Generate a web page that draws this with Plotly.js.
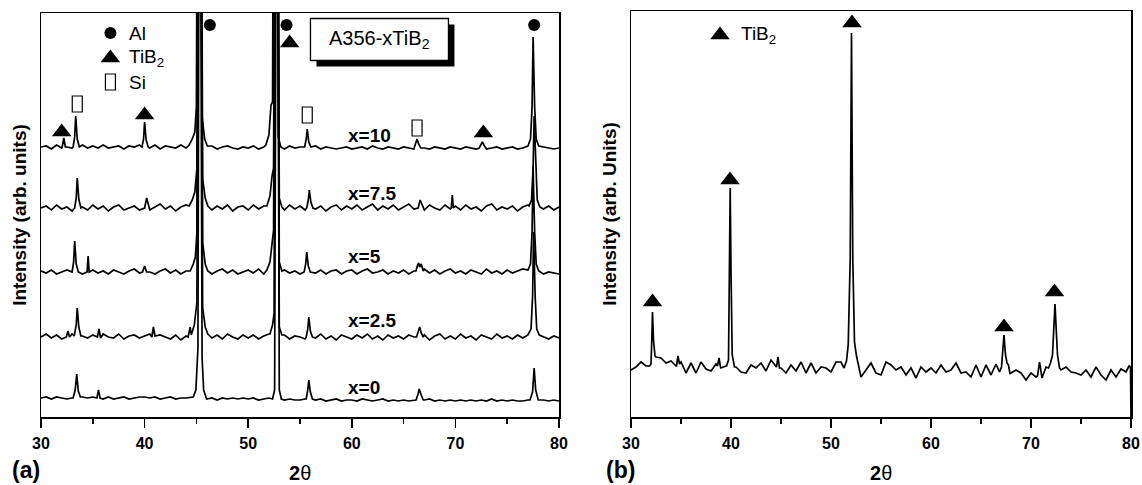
<!DOCTYPE html>
<html>
<head>
<meta charset="utf-8">
<script src="https://cdn.plot.ly/plotly-3.0.1.min.js"></script>
<style>html,body{margin:0;padding:0;background:#fff;}#chart{width:1142px;height:485px;}</style>
</head>
<body>
<div id="chart"></div>
<script>
// ---------- DATA ----------
// Panel (a): A356-xTiB2 patterns. Grid starts at 30°, step 0.5°; values are relative to each pattern's baseline offset.
const GRID_START = 30, GRID_STEP = 0.5;
const seriesNames = ['x=0', 'x=2.5', 'x=5', 'x=7.5', 'x=10'];
const offsets = [19, 80, 145, 209, 270];

const grid_x0 = [0,1,-1,1,0,-1,0,0,1,0, 1,0,-1,1,-1,0,1,-1,0,1, 1,0,1,-1,0,1,-1,0,0,1, 0,0,-1,0,-2,0,-1,0,-1,0,
  -1,0,-2,-1,0,0,-1,-2,-1,-2, -2,-1,-2,-2,-1,-3,-2,-1,-3,-2, -2,-3,-1,-2,-3,-2,-1,-3,-2,-3, -2,-3,-2,-3,-2,-1,-3,-2,-3,-2,
  -3,-2,-3,-2,-3,-2,-3,-1,-3,-2, -3,-2,-3,-3,-2,-2,-3,-2,-3,-2, -3];
const peaks_x0 = [
  [[33.1,0],[33.3,8],[33.45,24],[33.6,7],[33.8,1]],
  [[35.4,0],[35.55,8],[35.7,0]],
  [[44.7,1],[44.95,8],[45.15,50],[45.25,500],[45.4,500],[45.55,40],[45.7,8],[45.95,0]],
  [[52.35,-1],[52.55,8],[52.7,500],[52.85,500],[53.0,8],[53.2,-1]],
  [[55.6,-1],[55.75,8],[55.85,18],[56.0,6],[56.2,-1]],
  [[66.2,-2],[66.4,4],[66.5,9],[66.7,3],[66.9,-2]],
  [[77.2,-2],[77.45,6],[77.6,30],[77.75,8],[78.0,-2]]
];

const grid_x25 = [0,3,-1,2,-2,1,3,-2,1,-1, 2,-2,3,0,-1,3,-2,1,2,-1, 1,3,-2,2,0,-2,2,-3,1,2, 0,0,3,-1,2,-2,3,0,-2,2,
  -1,2,-2,1,3,0,-1,2,-2,1, 0,-2,2,-1,3,-2,1,-3,2,0, -2,2,-1,3,-2,1,-3,2,-1,1, -2,2,0,-1,2,-3,1,3,-2,1,
  -2,3,-1,1,-3,2,0,-2,3,-1, 1,-2,2,-1,1,2,-1,0,-2,1, -1];
const peaks_x25 = [
  [[32.45,0],[32.6,6],[32.75,0]],
  [[33.2,1],[33.4,12],[33.5,29],[33.65,10],[33.85,1]],
  [[35.45,0],[35.6,8],[35.75,-1]],
  [[40.7,0],[40.85,10],[41.0,1]],
  [[44.2,0],[44.4,10],[44.5,2],[44.8,12],[45.05,35],[45.2,500],[45.45,500],[45.6,30],[45.85,10],[46.1,3]],
  [[52.1,3],[52.35,12],[52.5,24],[52.6,500],[52.85,500],[53.0,10],[53.25,2]],
  [[55.6,0],[55.75,8],[55.85,20],[56.0,6],[56.2,0]],
  [[66.25,0],[66.45,6],[66.55,10],[66.7,4],[66.9,0]],
  [[77.0,2],[77.3,8],[77.45,40],[77.55,105],[77.7,40],[77.85,8],[78.1,2]]
];

const grid_x5 = [1,-1,2,-2,0,2,-1,1,-2,1, 2,-1,1,-2,2,0,-2,1,3,-1, 2,0,-2,1,3,-1,2,-2,1,3, 0,0,2,-2,1,3,-1,2,-2,0,
  2,-1,3,-2,1,0,-1,2,-1,1, -2,2,0,-1,2,-2,1,2,-2,1, 2,-2,1,3,-1,0,2,-2,1,-1, 2,-2,1,0,3,-1,2,-2,1,3,
  -1,1,-2,2,0,-2,3,-1,1,-2, 2,-1,1,3,-1,0,1,-2,0,-1, -2];
const peaks_x5 = [
  [[33.0,0],[33.15,10],[33.25,31],[33.4,8],[33.6,0]],
  [[34.45,0],[34.55,16],[34.65,0]],
  [[39.8,0],[40.0,6],[40.2,0]],
  [[44.4,1],[44.7,8],[44.9,15],[45.05,40],[45.2,500],[45.45,500],[45.6,30],[45.85,8],[46.1,1]],
  [[51.8,2],[52.1,10],[52.3,30],[52.45,42],[52.6,500],[52.85,500],[53.0,10],[53.25,1]],
  [[55.4,0],[55.55,8],[55.65,20],[55.8,6],[56.0,0]],
  [[66.2,1],[66.35,7],[66.45,9],[66.55,5],[66.7,8],[66.9,1]],
  [[77.0,2],[77.25,8],[77.4,40],[77.5,105],[77.65,40],[77.8,8],[78.05,1]]
];

const grid_x75 = [0,2,-2,3,-1,1,-3,2,1,-2, 3,-1,2,-3,1,3,-2,0,2,-2, 3,-2,1,4,-1,2,-3,1,3,-2, 0,0,3,-2,2,-1,3,-3,1,2,
  -2,3,-1,2,-3,0,1,-2,3,-1, 2,-2,3,-1,2,-3,1,3,-2,2, -1,3,-2,1,4,-2,2,-1,3,-2, 1,4,-1,2,-2,3,0,-2,3,-1,
  2,-2,3,-1,1,-3,2,4,-2,1, -1,2,-3,1,3,-2,1,-1,2,-2, 1];
const peaks_x75 = [
  [[33.25,0],[33.4,10],[33.5,30],[33.65,9],[33.85,0]],
  [[40.0,0],[40.2,10],[40.4,0]],
  [[44.3,2],[44.6,8],[44.85,16],[45.05,40],[45.2,500],[45.45,500],[45.6,30],[45.85,10],[46.1,2]],
  [[51.8,2],[52.1,12],[52.3,32],[52.45,40],[52.6,500],[52.85,500],[53.0,10],[53.25,1]],
  [[55.65,0],[55.8,8],[55.9,18],[56.05,6],[56.25,0]],
  [[66.4,0],[66.6,8],[66.75,4],[66.9,0]],
  [[69.6,0],[69.7,13],[69.8,0]],
  [[77.1,2],[77.35,8],[77.5,40],[77.6,92],[77.75,40],[77.9,8],[78.15,1]]
];

const grid_x10 = [0,1,-2,2,-1,0,-1,1,2,-1, 1,-1,2,-1,0,1,-2,1,0,2, 0,-1,2,-2,1,0,-1,2,-1,1, 0,0,-1,1,-2,0,1,-1,-2,0,
  -1,1,-2,0,2,-1,0,-2,1,-1, 0,2,-1,1,-2,0,-1,-2,-1,0, -2,-1,0,-2,1,-1,-2,0,-1,-2, 0,-1,-2,1,-1,-2,0,-1,-2,0,
  -1,-2,0,-1,-2,1,-2,-1,0,-2, -1,0,-2,-1,0,-1,-2,0,-1,-2, -1];
const peaks_x10 = [
  [[32.05,0],[32.2,9],[32.35,0]],
  [[33.1,0],[33.25,10],[33.35,31],[33.5,8],[33.7,0]],
  [[39.75,0],[39.9,8],[40.0,25],[40.15,7],[40.35,0]],
  [[44.3,2],[44.6,8],[44.85,15],[45.0,40],[45.15,500],[45.4,500],[45.55,30],[45.8,8],[46.05,1]],
  [[51.7,2],[52.0,12],[52.2,42],[52.35,45],[52.5,500],[52.75,500],[52.9,10],[53.15,0]],
  [[55.45,0],[55.6,8],[55.7,18],[55.85,5],[56.05,0]],
  [[66.05,0],[66.2,4],[66.3,8],[66.45,3],[66.65,-1]],
  [[72.3,-1],[72.5,4],[72.6,5],[72.75,2],[72.95,-1]],
  [[77.0,1],[77.25,8],[77.4,40],[77.5,110],[77.65,40],[77.8,8],[78.05,1]]
];

const gridsA = [grid_x0, grid_x25, grid_x5, grid_x75, grid_x10];
const peaksA = [peaks_x0, peaks_x25, peaks_x5, peaks_x75, peaks_x10];

// Series labels (panel a)
const labelX = 59.44;
const labelY = [30, 97, 161, 224, 282];

// Phase markers (panel a)
const triA_x = [32.0, 40.0, 54.0, 72.7];
const triA_y = [285, 302, 374, 284];
const alA_x = [46.3, 53.7, 77.6];
const alA_y = [392, 392, 392];
const siA_x = [33.5, 55.7, 66.3];
const siA_y = [313, 302, 289];
// Legend (panel a)
const legA_markerX = 36.7;
const legA_textX = 38.3;
const legA_y = [384, 359, 335];
const legA_text = ['Al', 'TiB<sub>2</sub>', 'Si'];
const boxLabel = 'A356-xTiB<sub>2</sub>';
const boxX = 62.67, boxY = 377.5;
const xTitle = '<b>2</b>θ';

// Panel (b): TiB2 pattern
const offsetB = 47;
const grid_b = [0,3,8,4,0,13,12,7,9,4, 8,-3,7,-3,8,1,-1,6,2,4, 0,3,-2,-3,5,2,7,-1,10,3, 2,-3,5,-1,8,-3,7,-3,3,2,
  -2,8,8,0,0,0,-7,0,7,-3, -5,8,5,0,3,-5,2,-8,3,-2, 2,-3,5,-2,0,7,-3,-2,-7,5, -7,5,-5,6,0,0,-3,0,-3,-10,
  -3,-7,0,3,0,0,0,3,-2,-3, -5,0,-7,3,-5,-10,0,-7,1,-2, -47];
const peaks_b = [
  [[31.85,4],[32.0,6],[32.08,30],[32.15,58],[32.25,30],[32.4,14]],
  [[34.55,4],[34.7,14],[34.85,6]],
  [[38.65,4],[38.8,12],[38.95,3]],
  [[39.55,4],[39.75,10],[39.84,100],[39.92,182],[40.0,100],[40.12,15],[40.35,3]],
  [[44.55,3],[44.7,13],[44.85,2]],
  [[51.3,2],[51.55,9],[51.72,25],[51.92,110],[52.05,337],[52.18,110],[52.35,28],[52.55,14],[52.8,2]],
  [[66.85,-2],[67.05,3],[67.15,15],[67.3,35],[67.45,15],[67.6,7],[67.75,5],[67.9,-4]],
  [[70.65,-6],[70.85,8],[71.1,-8]],
  [[71.75,2],[71.95,7],[72.15,15],[72.3,45],[72.4,66],[72.5,45],[72.65,15],[72.85,2]],
  [[79.8,4],[79.95,3]]
];
const triB_x = [32.15, 39.9, 52.1, 67.3, 72.35];
const triB_y = [115, 237, 394, 90, 125];
const legB_markerX = 38.9, legB_textX = 40.8, legB_y = 382;

// ---------- BUILD ----------
function buildSeries(grid, peaks, offset) {
  const pts = [];
  grid.forEach((v, i) => {
    const x = GRID_START + GRID_STEP * i;
    const inside = peaks.some(p => x >= p[0][0] && x <= p[p.length - 1][0]);
    if (!inside) pts.push([x, v]);
  });
  peaks.forEach(p => p.forEach(q => pts.push(q)));
  pts.sort((a, b) => a[0] - b[0]);
  return { x: pts.map(p => p[0]), y: pts.map(p => p[1] + offset) };
}

const FONT = '"Liberation Sans", Arial, Helvetica, sans-serif';
const LW = 1.7;
const traces = [];
gridsA.forEach((g, k) => {
  const s = buildSeries(g, peaksA[k], offsets[k]);
  traces.push({ x: s.x, y: s.y, type: 'scatter', mode: 'lines', name: seriesNames[k],
    line: { color: '#000', width: LW }, xaxis: 'x', yaxis: 'y', hoverinfo: 'skip' });
});
const sb = buildSeries(grid_b, peaks_b, offsetB);
traces.push({ x: sb.x, y: sb.y, type: 'scatter', mode: 'lines', name: 'TiB2',
  line: { color: '#000', width: LW }, xaxis: 'x2', yaxis: 'y2', hoverinfo: 'skip' });

// markers
traces.push({ x: triA_x.concat([legA_markerX]), y: triA_y.concat([legA_y[1]]), type: 'scatter', mode: 'markers',
  marker: { symbol: 'triangle-up', size: 17, color: '#000' }, xaxis: 'x', yaxis: 'y', hoverinfo: 'skip' });
traces.push({ x: alA_x.concat([legA_markerX]), y: alA_y.concat([legA_y[0]]), type: 'scatter', mode: 'markers',
  marker: { symbol: 'circle', size: 12, color: '#000' }, xaxis: 'x', yaxis: 'y', hoverinfo: 'skip' });
traces.push({ x: triB_x.concat([legB_markerX]), y: triB_y.concat([legB_y]), type: 'scatter', mode: 'markers',
  marker: { symbol: 'triangle-up', size: 17, color: '#000' }, xaxis: 'x2', yaxis: 'y2', hoverinfo: 'skip' });

// Si markers: open tall rectangles, anchored at data points, sized in pixels
const shapes = [];
siA_x.concat([legA_markerX]).forEach((sx, i) => {
  const sy = siA_y.concat([legA_y[2]])[i];
  shapes.push({ type: 'rect', xref: 'x', yref: 'y', xsizemode: 'pixel', ysizemode: 'pixel',
    xanchor: sx, yanchor: sy, x0: -5, x1: 5, y0: -8, y1: 8,
    line: { color: '#000', width: 1.2 }, fillcolor: '#fff', layer: 'above' });
});
// Sample-name box with drop shadow
shapes.push({ type: 'rect', xref: 'x', yref: 'y', xsizemode: 'pixel', ysizemode: 'pixel',
  xanchor: boxX, yanchor: boxY, x0: -63, x1: 75, y0: -27, y1: 15,
  line: { color: '#000', width: 0 }, fillcolor: '#000', layer: 'above' });
shapes.push({ type: 'rect', xref: 'x', yref: 'y', xsizemode: 'pixel', ysizemode: 'pixel',
  xanchor: boxX, yanchor: boxY, x0: -69, x1: 69, y0: -21, y1: 21,
  line: { color: '#000', width: 1.3 }, fillcolor: '#fff', layer: 'above' });

const annotations = [];
seriesNames.forEach((n, k) => annotations.push({ x: labelX, y: labelY[k], xref: 'x', yref: 'y', text: '<b>' + n + '</b>',
  showarrow: false, xanchor: 'left', yanchor: 'middle', font: { family: FONT, size: 19, color: '#000' } }));
legA_text.forEach((t, k) => annotations.push({ x: legA_textX, y: legA_y[k], xref: 'x', yref: 'y', text: t,
  showarrow: false, xanchor: 'left', yanchor: 'middle', font: { family: FONT, size: 19, color: '#000' } }));
annotations.push({ x: legB_textX, y: legB_y, xref: 'x2', yref: 'y2', text: 'TiB<sub>2</sub>',
  showarrow: false, xanchor: 'left', yanchor: 'middle', font: { family: FONT, size: 19, color: '#000' } });
annotations.push({ x: boxX, y: boxY, xref: 'x', yref: 'y', text: boxLabel, showarrow: false,
  xanchor: 'center', yanchor: 'middle', font: { family: FONT, size: 20, color: '#000' } });
annotations.push({ x: 26 / 1142, y: 15 / 485, xref: 'paper', yref: 'paper', text: '<b>(a)</b>', showarrow: false,
  xanchor: 'center', yanchor: 'middle', font: { family: FONT, size: 23, color: '#000' } });
annotations.push({ x: 620 / 1142, y: 15 / 485, xref: 'paper', yref: 'paper', text: '<b>(b)</b>', showarrow: false,
  xanchor: 'center', yanchor: 'middle', font: { family: FONT, size: 23, color: '#000' } });
// x-axis titles (2θ), centred under each panel
annotations.push({ x: 0.5, y: 12 / 485, xref: 'x domain', yref: 'paper', text: xTitle, showarrow: false,
  xanchor: 'center', yanchor: 'middle', font: { family: FONT, size: 20, color: '#000' } });
annotations.push({ x: 0.5, y: 12 / 485, xref: 'x2 domain', yref: 'paper', text: xTitle, showarrow: false,
  xanchor: 'center', yanchor: 'middle', font: { family: FONT, size: 20, color: '#000' } });

function xAxis(domain, anchor) {
  return { domain: domain, anchor: anchor, range: [30, 80], tick0: 30, dtick: 10, ticks: 'outside', ticklen: 9,
    tickwidth: 1.5, tickcolor: '#000', showline: true, mirror: true, linewidth: 1.5, linecolor: '#000',
    showgrid: false, zeroline: false, ticklabelstandoff: 2,
    minor: { dtick: 5, tick0: 30, ticks: 'outside', ticklen: 5, tickwidth: 1.5, tickcolor: '#000', showgrid: false },
    tickfont: { family: FONT, size: 16, color: '#000', weight: 'bold' } };
}
function yAxis(domain, anchor, top, label) {
  return { domain: domain, anchor: anchor, range: [0, top], showline: true, mirror: true, linewidth: 1.5,
    linecolor: '#000', ticks: '', showticklabels: false, showgrid: false, zeroline: false,
    title: { text: '<b>' + label + '</b>', font: { family: FONT, size: 19, color: '#000' }, standoff: 8 } };
}

const layout = {
  width: 1142, height: 485, margin: { l: 0, r: 0, t: 0, b: 0 }, showlegend: false,
  paper_bgcolor: '#fff', plot_bgcolor: '#fff',
  xaxis: xAxis([41 / 1142, 559 / 1142], 'y'),
  yaxis: yAxis([68 / 485, 472 / 485], 'x', 404, 'Intensity (arb. units)'),
  xaxis2: xAxis([631 / 1142, 1131 / 1142], 'y2'),
  yaxis2: yAxis([68 / 485, 474 / 485], 'x2', 406, 'Intensity (arb. Units)'),
  shapes: shapes,
  annotations: annotations
};

Plotly.newPlot('chart', traces, layout, { staticPlot: true, displayModeBar: false });
</script>
</body>
</html>
